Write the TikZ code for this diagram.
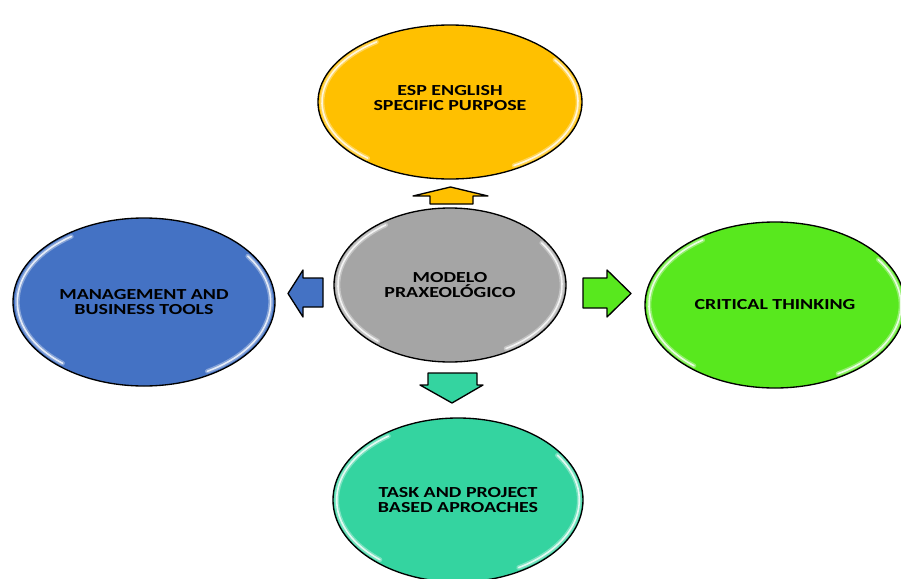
\documentclass[tikz,border=0pt]{standalone}
\usepackage{fontspec}
\setmainfont{Carlito}
\newfontfamily\bubblefont[FakeStretch=1.3]{Carlito}
\usetikzlibrary{shapes.geometric}

\definecolor{espYellow}{RGB}{255,192,0}
\definecolor{coreGray}{RGB}{165,165,165}
\definecolor{toolBlue}{RGB}{68,114,196}
\definecolor{critGreen}{RGB}{88,232,30}
\definecolor{taskTeal}{RGB}{52,212,160}

\tikzset{every picture/.style={line width=0.75pt}}
\tikzset{
  bubble/.style={ellipse, draw=black, line width=1pt, inner sep=0pt, align=center,
    font=\bubblefont\fontsize{11.5}{11}\selectfont\bfseries},
  blockarrow/.style={draw=black, line width=1pt, line join=round},
  glint/.style={white, line width=3.5pt, opacity=0.35, line cap=round},
  glintcore/.style={white, line width=1.2pt, opacity=0.8, line cap=round}
}

\begin{document}
\begin{tikzpicture}[x=0.75pt,y=0.75pt,yscale=-1,xscale=1]
\useasboundingbox (0,0) rectangle (901,579);

% Ellipses
\node [bubble, fill=espYellow, minimum width=198pt, minimum height=115.5pt] (esp) at (450,102) {ESP ENGLISH\\SPECIFIC PURPOSE\\[-5pt]};
\node [bubble, fill=coreGray, minimum width=174pt, minimum height=115.5pt] (core) at (450,285) {MODELO\\PRAXEOLÓGICO};
\node [bubble, fill=toolBlue, minimum width=196.5pt, minimum height=126pt] (tools) at (144,302) {MANAGEMENT AND\\BUSINESS TOOLS};
\node [bubble, fill=critGreen, minimum width=195pt, minimum height=124.5pt] (critical) at (775,305) {CRITICAL THINKING};
\node [bubble, fill=taskTeal, minimum width=187.5pt, minimum height=123pt] (task) at (458,500) {TASK AND PROJECT\\BASED APROACHES};

% glossy highlights (upper left and lower right)
\foreach \n/\rx/\ry in {esp/96/55, core/84/55, tools/95/60, critical/94.5/59.5, task/91/58.5}{
  \foreach \g in {glint, glintcore}{
    \draw [\g] (\n.center) ++(130:\rx pt and \ry pt) arc [start angle=130, end angle=235, x radius=\rx pt, y radius=\ry pt];
    \draw [\g] (\n.center) ++(-35:\rx pt and \ry pt) arc [start angle=-35, end angle=60, x radius=\rx pt, y radius=\ry pt];
  }
}

% Block arrows
\draw [blockarrow, fill=espYellow] (430,204) -- (430,196) -- (413,196) -- (450.5,187) -- (488,196) -- (473,196) -- (473,204) -- cycle;
\draw [blockarrow, fill=toolBlue] (323,278) -- (303,278) -- (303,270) -- (288,293.5) -- (303,317) -- (303,307) -- (323,307) -- cycle;
\draw [blockarrow, fill=critGreen] (583,278) -- (607,278) -- (607,270) -- (631,293.5) -- (607,317) -- (607,308) -- (583,308) -- cycle;
\draw [blockarrow, fill=taskTeal] (428,373) -- (477,373) -- (477,385) -- (483,385) -- (452,403) -- (420,385) -- (428,385) -- cycle;

\end{tikzpicture}
\end{document}
